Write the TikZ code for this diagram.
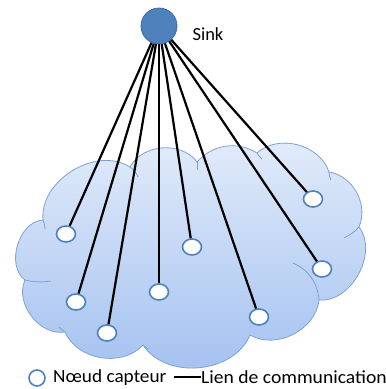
\documentclass[tikz,border=0pt]{standalone}
\usepackage{fontspec}
\setmainfont{Carlito}
\usetikzlibrary{shapes}

\definecolor{sinkblue}{HTML}{4F81BD}
\definecolor{sinkline}{HTML}{3C6AA3}
\definecolor{cloudtop}{HTML}{E3ECFA}
\definecolor{cloudbot}{HTML}{A2C0F0}
\definecolor{cloudline}{HTML}{7EA2D4}

\tikzset{
  capteur/.style={ellipse,draw=sinkblue,line width=1.6pt,fill=white,
    minimum width=19pt,minimum height=16pt,inner sep=0pt},
  lien/.style={line width=2.2pt,black},
  pli/.style={draw=cloudline,line width=0.8pt}
}

\begin{document}
\begin{tikzpicture}[x=1pt,y=-1pt,font=\fontsize{18.5}{20}\selectfont]
\useasboundingbox (0,0) rectangle (386,389);
\coordinate (P1) at (43,220);
\coordinate (P2) at (130,167);
\coordinate (P3) at (197,162);
\coordinate (P4) at (257,153);
\coordinate (P5) at (329,172);
\coordinate (P6) at (359,227);
\coordinate (P7) at (319,300);
\coordinate (P8) at (250,335);
\coordinate (P9) at (143,345);
\coordinate (P10) at (65,332);
\coordinate (P11) at (25,280);
\shadedraw[top color=cloudtop,bottom color=cloudbot,draw=cloudline,line width=0.8pt]
  (P1) to[bend left=64] (P2) to[bend left=58] (P3) to[bend left=40] (P4)
  to[bend left=57] (P5) to[bend left=52] (P6) to[bend left=66] (P7)
  to[bend left=57] (P8) to[bend left=62] (P9) to[bend left=57] (P10)
  to[bend left=62] (P11) to[bend left=70] (P1) -- cycle;
\draw[pli] (P1) to[bend left=10] (45,229);
\draw[pli] (P2) to[bend left=15] (138,177);
\draw[pli] (P3) to[bend left=5] (197,170);
\draw[pli] (P4) to[bend right=10] (262,159);
\draw[pli] (P5) to[bend right=10] (331,180);
\draw[pli] (344,238) to[bend right=10] (P6);
\draw[pli] (293,263) to[bend left=30] (P7);
\draw[pli] (P9) to[bend left=10] (148,349);
\draw[pli] (59,327) to[bend left=5] (P10);
\draw[pli] (P11) to[bend right=10] (51,281);

\node[circle,draw=sinkline,fill=sinkblue,line width=0.8pt,minimum size=36pt,inner sep=0pt] (sink) at (159,26) {};
\node[anchor=west] (sinklabel) at (189,34) {Sink};

\node[capteur] (n1) at (66,234) {};
\node[capteur] (n2) at (76,302) {};
\node[capteur] (n3) at (107,333) {};
\node[capteur] (n4) at (159,292) {};
\node[capteur] (n5) at (192,247) {};
\node[capteur] (n6) at (259,317) {};
\node[capteur] (n7) at (313,199) {};
\node[capteur] (n8) at (322,269) {};
\foreach \n in {n1,n2,n3,n4,n5,n6,n7,n8}
  \draw[lien] (sink) -- (\n);

% legende
\node[circle,draw=sinkblue,line width=1.6pt,fill=white,minimum size=16pt,inner sep=0pt] (legnode) at (37,378) {};
\node[anchor=west,inner sep=0pt] (legnodetext) at (53,378) {\scalebox{1.04}[1]{Nœud capteur}};
\node[anchor=west,inner sep=0pt] (leglientext) at (201,377) {\scalebox{1.06}[1]{Lien de communication}};
\coordinate (legA) at (174,377);
\draw[lien] (legA) -- (leglientext.west);
\end{tikzpicture}
\end{document}
